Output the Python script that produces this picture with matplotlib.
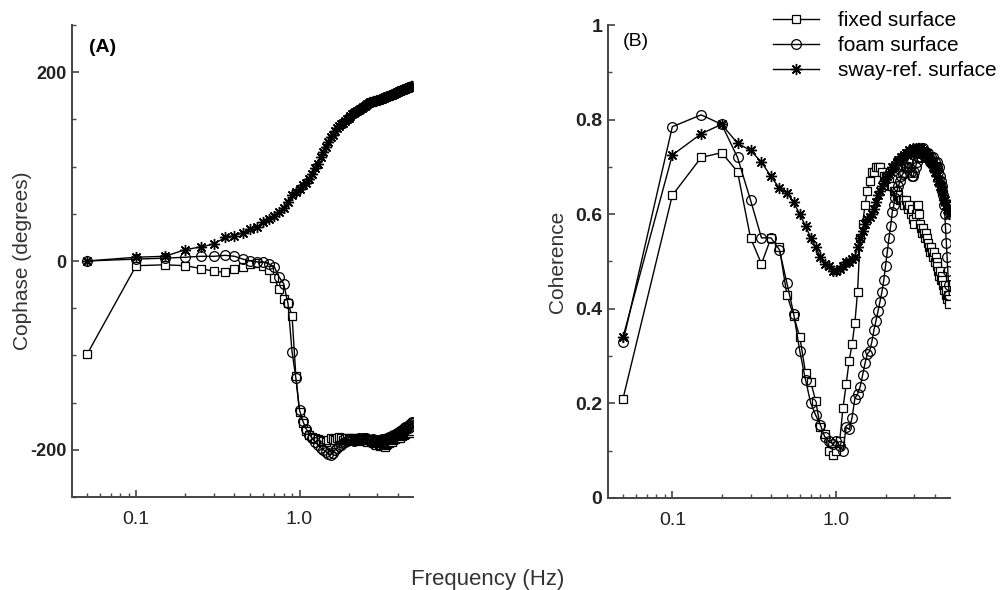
import numpy as np
import matplotlib
matplotlib.use("Agg")
import matplotlib.pyplot as plt
from matplotlib.ticker import LogLocator, FixedLocator, MultipleLocator, NullFormatter
from matplotlib.legend_handler import HandlerTuple

plt.rcParams['font.family'] = ['Liberation Sans', 'DejaVu Sans']

# frequency bins (Hz), 0.05 Hz resolution
freq = [0.05, 0.10, 0.15, 0.20, 0.25, 0.30, 0.35, 0.40, 0.45, 0.50,
        0.55, 0.60, 0.65, 0.70, 0.75, 0.80, 0.85, 0.90, 0.95, 1.00,
        1.05, 1.10, 1.15, 1.20, 1.25, 1.30, 1.35, 1.40, 1.45, 1.50,
        1.55, 1.60, 1.65, 1.70, 1.75, 1.80, 1.85, 1.90, 1.95, 2.00,
        2.05, 2.10, 2.15, 2.20, 2.25, 2.30, 2.35, 2.40, 2.45, 2.50,
        2.55, 2.60, 2.65, 2.70, 2.75, 2.80, 2.85, 2.90, 2.95, 3.00,
        3.05, 3.10, 3.15, 3.20, 3.25, 3.30, 3.35, 3.40, 3.45, 3.50,
        3.55, 3.60, 3.65, 3.70, 3.75, 3.80, 3.85, 3.90, 3.95, 4.00,
        4.05, 4.10, 4.15, 4.20, 4.25, 4.30, 4.35, 4.40, 4.45, 4.50,
        4.55, 4.60, 4.65, 4.70, 4.75, 4.80, 4.85, 4.90]

# (A) cophase, degrees
phase_fixed = [-99, -5, -4, -5, -8, -11, -12, -9, -6, -3,
               -2, -5, -10, -18, -30, -40, -45, -58, -122, -160,
               -172, -180, -184, -186, -188, -189, -190, -191, -192, -190,
               -188, -189, -190, -187, -186, -188, -190, -189, -187, -188,
               -189, -190, -188, -187, -189, -191, -190, -188, -189, -190,
               -191, -192, -190, -189, -191, -193, -192, -194, -195, -193,
               -194, -196, -195, -193, -194, -196, -197, -195, -194, -192,
               -193, -191, -190, -192, -190, -188, -189, -187, -186, -188,
               -186, -185, -187, -184, -185, -183, -184, -182, -183, -181,
               -182, -180, -181, -179, -180, -182, -178, -180]
phase_foam = [0, 2, 3, 4, 5, 5, 6, 5, 2, 0,
              -1, -1, -3, -6, -17, -24, -45, -96, -124, -158,
              -170, -178, -184, -188, -192, -195, -198, -200, -202, -204,
              -205, -203, -200, -198, -196, -195, -193, -192, -191, -190,
              -189, -190, -191, -190, -189, -188, -189, -190, -188, -187,
              -188, -189, -190, -191, -190, -189, -191, -192, -191, -190,
              -191, -192, -190, -189, -191, -192, -190, -189, -188, -187,
              -186, -188, -187, -185, -184, -186, -185, -183, -182, -184,
              -183, -181, -180, -182, -179, -178, -180, -177, -176, -178,
              -176, -175, -177, -174, -173, -175, -172, -171]
phase_sway = [0, 4, 5, 12, 15, 18, 25, 27, 30, 34,
              36, 41, 44, 48, 52, 56, 62, 70, 73, 76,
              80, 83, 87, 92, 98, 103, 110, 115, 121, 126,
              131, 134, 138, 141, 143, 145, 146, 148, 150, 152,
              154, 156, 157, 158, 159, 160, 161, 162, 163, 164,
              165, 166, 167, 168, 168, 169, 169, 170, 170, 171,
              171, 172, 172, 172, 173, 173, 174, 174, 175, 175,
              175, 176, 176, 176, 177, 177, 178, 178, 179, 179,
              180, 180, 180, 181, 181, 181, 182, 182, 182, 183,
              183, 183, 184, 184, 184, 185, 185, 185]

# (B) coherence
coh_fixed = [.21, .64, .72, .73, .69, .55, .495, .55, .53, .43,
             .385, .34, .265, .245, .205, .15, .135, .10, .09, .10,
             .12, .19, .24, .29, .325, .37, .435, .55, .58, .62,
             .65, .67, .69, .69, .70, .70, .70, .69, .68, .68,
             .68, .67, .66, .66, .65, .65, .64, .64, .63, .63,
             .63, .62, .63, .62, .61, .62, .60, .61, .59, .58,
             .60, .61, .62, .60, .58, .57, .56, .57, .56, .55,
             .56, .55, .54, .53, .52, .53, .52, .51, .52, .50,
             .51, .50, .49, .48, .47, .48, .46, .47, .46, .45,
             .44, .45, .43, .44, .42, .43, .42, .41]
coh_foam = [.33, .785, .81, .79, .72, .63, .55, .55, .525, .455,
            .39, .31, .25, .20, .175, .155, .13, .12, .115, .12,
            .11, .10, .15, .145, .17, .21, .22, .235, .26, .285,
            .305, .31, .33, .355, .375, .395, .415, .435, .46, .49,
            .52, .55, .575, .605, .62, .635, .65, .66, .67, .68,
            .685, .69, .70, .70, .71, .70, .69, .68, .68, .69,
            .70, .71, .72, .72, .73, .72, .73, .74, .73, .72,
            .73, .72, .73, .72, .71, .72, .71, .72, .70, .71,
            .70, .71, .70, .69, .70, .68, .67, .66, .65, .64,
            .62, .60, .57, .54, .51, .48, .45, .43]
coh_sway = [.34, .725, .77, .79, .75, .735, .71, .68, .655, .645,
            .625, .60, .575, .55, .53, .51, .495, .49, .48, .48,
            .485, .49, .50, .50, .505, .51, .53, .55, .565, .58,
            .59, .595, .60, .61, .625, .64, .65, .66, .67, .675,
            .68, .685, .69, .70, .70, .705, .71, .715, .715, .72,
            .72, .725, .73, .725, .73, .735, .73, .735, .74, .735,
            .74, .735, .74, .74, .735, .74, .73, .735, .73, .725,
            .73, .73, .72, .72, .715, .71, .71, .70, .70, .69,
            .69, .68, .68, .67, .67, .66, .66, .65, .65, .64,
            .63, .63, .62, .62, .61, .61, .60, .60]

labels = ['fixed surface', 'foam surface', 'sway-ref. surface']

fig = plt.figure(figsize=(10.04, 5.9), dpi=100)
axA = fig.add_axes([72 / 1004, 1 - 497 / 590, 341 / 1004, 472 / 590])
axB = fig.add_axes([608 / 1004, 1 - 498 / 590, 342 / 1004, 473 / 590])

sq = dict(color='black', lw=1.0, marker='s', ms=6, mfc='white', mec='black', mew=0.9)
ci = dict(color='black', lw=1.0, marker='o', ms=7, mfc='none', mec='black', mew=0.9)
st = dict(color='black', lw=1.0, marker=(8, 2, 0), ms=8, mec='black', mew=1.0)
dot = dict(ls='none', marker='o', ms=3, color='black')


def draw(ax, fixed, foam, sway):
    h1, = ax.plot(freq, fixed, **sq)
    h2, = ax.plot(freq, foam, **ci)
    h3, = ax.plot(freq, sway, **st)
    h4, = ax.plot(freq, sway, **dot)
    return h1, h2, (h3, h4)


draw(axA, phase_fixed, phase_foam, phase_sway)
handles = draw(axB, coh_fixed, coh_foam, coh_sway)

for ax in (axA, axB):
    ax.set_xscale('log')
    ax.set_xlim(0.0405, 4.95)
    ax.spines['top'].set_visible(False)
    ax.spines['right'].set_visible(False)
    for s in ('left', 'bottom'):
        ax.spines[s].set_color('#444444')
        ax.spines[s].set_linewidth(1.4)
    ax.xaxis.set_major_locator(FixedLocator([0.1, 1.0]))
    ax.set_xticklabels(['0.1', '1.0'], fontsize=14, color='#222222')
    ax.xaxis.set_minor_locator(LogLocator(base=10, subs=np.arange(2, 10)))
    ax.xaxis.set_minor_formatter(NullFormatter())
    ax.tick_params(axis='both', which='both', direction='in', color='#444444')
    ax.tick_params(axis='both', which='major', length=5, width=1.2, pad=10)
    ax.tick_params(axis='both', which='minor', length=3, width=1.0)
    ax.tick_params(axis='y', which='major', pad=4, length=5)

axA.set_ylim(-250, 250)
axA.set_yticks([-200, 0, 200])
axA.yaxis.set_minor_locator(MultipleLocator(50))
axA.set_yticklabels(['-200', '0', '200'], fontsize=13, fontweight='bold', color='#222222')
axA.set_ylabel('Cophase (degrees)', fontsize=15, color='#333333')
axA.yaxis.set_label_coords(-0.117, 0.5)
axA.text(17 / 341, 1 - 23 / 472, '(A)', transform=axA.transAxes, fontsize=14,
         fontweight='bold', va='center', ha='left')

axB.set_ylim(0, 1)
axB.set_yticks([0, 0.2, 0.4, 0.6, 0.8, 1.0])
axB.yaxis.set_minor_locator(MultipleLocator(0.1))
axB.set_yticklabels(['0', '0.2', '0.4', '0.6', '0.8', '1'], fontsize=14,
                    fontweight='bold', color='#222222')
axB.set_ylabel('Coherence', fontsize=15, color='#333333')
axB.yaxis.set_label_coords(-0.12, 0.5)
axB.text(15 / 342, 1 - 16 / 473, '(B)', transform=axB.transAxes, fontsize=14,
         va='center', ha='left')

fig.legend(handles, labels, loc='upper left', bbox_to_anchor=(773 / 1004, 1 - 11 / 590),
           frameon=False, fontsize=15, handlelength=2.2, handletextpad=0.9,
           labelspacing=0.3, borderpad=0, borderaxespad=0,
           handler_map={tuple: HandlerTuple(ndivide=1, pad=0)})

fig.text(488 / 1004, 1 - 580 / 590, 'Frequency (Hz)', fontsize=16, color='#333333',
         ha='center', va='center')

fig.savefig('out.png', dpi=100)
